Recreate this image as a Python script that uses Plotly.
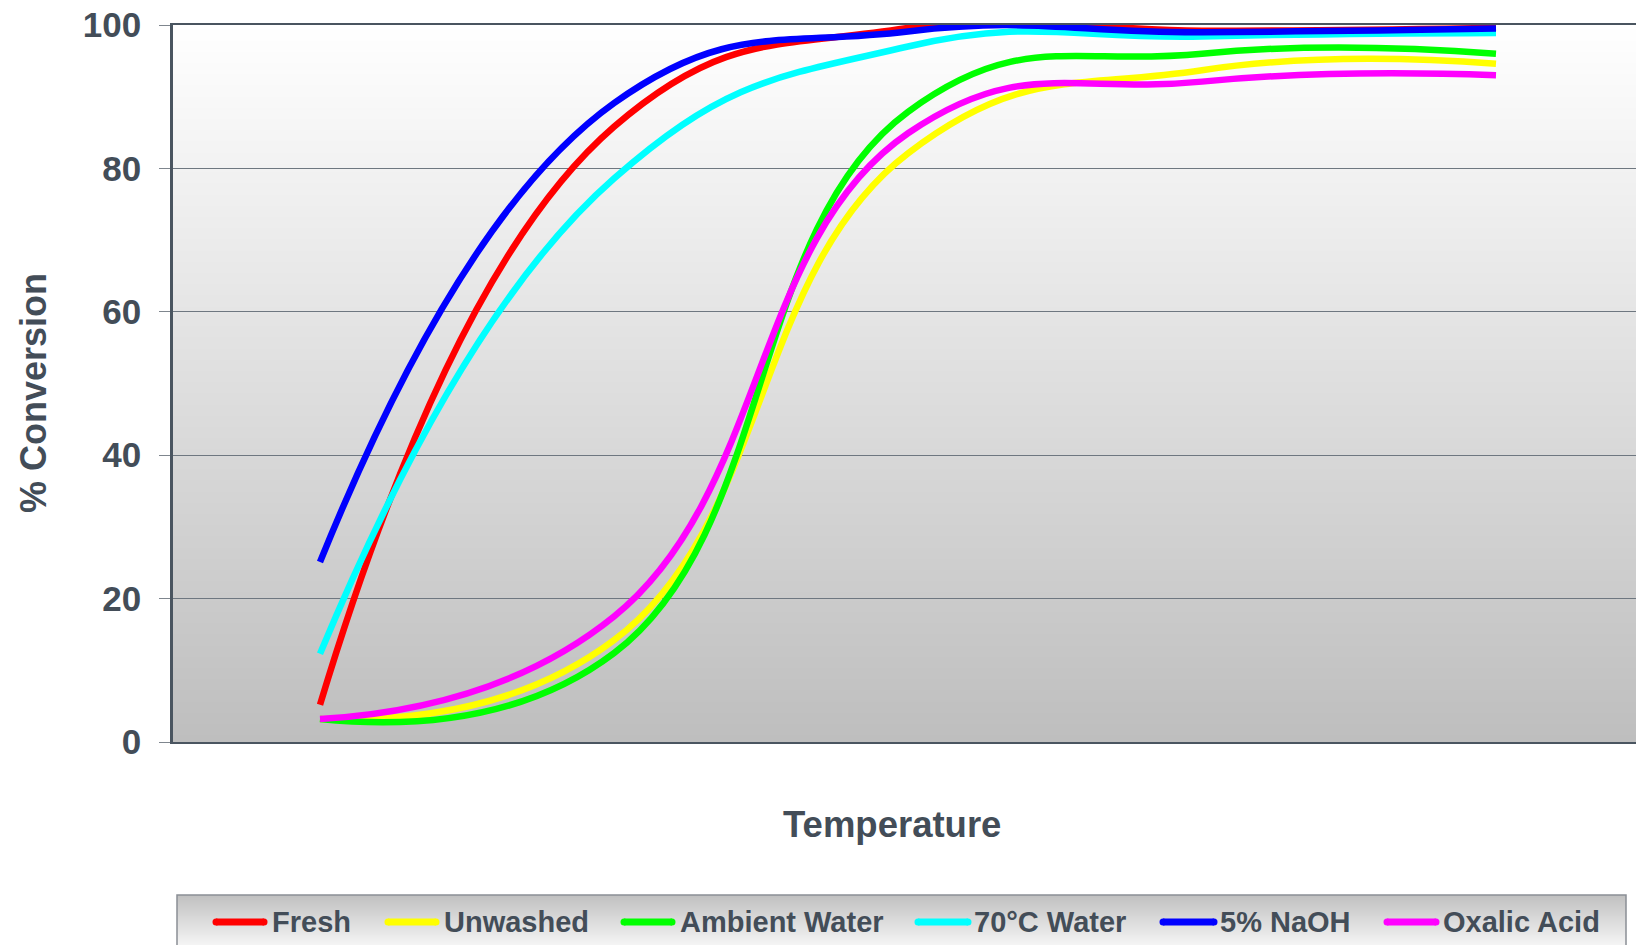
import base64
import struct
import zlib

import plotly.graph_objects as go

# ---------------- data ----------------
temperature_points = [0, 1, 2, 3, 4]          # category positions (axis carries no labels)
series_names = ["Fresh", "Unwashed", "Ambient Water", "70°C Water", "5% NaOH", "Oxalic Acid"]
fresh = [5.2, 85.8, 99.6, 99.2, 99.6]
unwashed = [3.2, 14.2, 82.1, 93.7, 94.6]
ambient_water = [3.2, 12.4, 87.9, 96.0, 96.0]
water_70c = [12.3, 78.6, 97.0, 98.4, 98.9]
naoh_5pct = [25.1, 89.1, 99.1, 99.0, 99.5]
oxalic_acid = [3.2, 17.5, 84.9, 92.1, 93.0]
y_ticks = [0, 20, 40, 60, 80, 100]

series_values = [fresh, unwashed, ambient_water, water_70c, naoh_5pct, oxalic_acid]
series_colors = ["#ff0000", "#ffff00", "#00ff00", "#00ffff", "#0000ff", "#ff00ff"]

# ---------------- geometry helpers (pixel -> paper) ----------------
W, H = 1636, 945
ML, MR, MT, MB = 173, 0, 25, 203
PW, PH = W - ML - MR, H - MT - MB


def px_x(px):
    return (px - ML) / PW


def px_y(py):
    return (H - MB - py) / PH


def grad_png(c_top, c_bot, h=256, w=4):
    rows = []
    for i in range(h):
        t = i / (h - 1)
        c = [int(round(a + (b - a) * t)) for a, b in zip(c_top, c_bot)]
        rows.append(b"\x00" + bytes(c) * w)
    raw = b"".join(rows)

    def chunk(tag, data):
        return (struct.pack(">I", len(data)) + tag + data
                + struct.pack(">I", zlib.crc32(tag + data) & 0xFFFFFFFF))

    png = (b"\x89PNG\r\n\x1a\n"
           + chunk(b"IHDR", struct.pack(">IIBBBBB", w, h, 8, 2, 0, 0, 0))
           + chunk(b"IDAT", zlib.compress(raw))
           + chunk(b"IEND", b""))
    return "data:image/png;base64," + base64.b64encode(png).decode()


TEXT = "#434d58"
FONT = "Liberation Sans, Arial, sans-serif"

fig = go.Figure()
for name, vals, col in zip(series_names, series_values, series_colors):
    fig.add_trace(go.Scatter(
        x=temperature_points, y=vals, name=name, mode="lines",
        line=dict(color=col, width=6.5, shape="spline", smoothing=1.3),
        showlegend=False,
    ))

x_max = PW / ((320 - ML) / 0.5) - 0.5

images = [
    dict(source=grad_png((255, 255, 255), (190, 190, 190)), xref="paper", yref="paper",
         x=0, y=1, sizex=1, sizey=1, sizing="stretch", xanchor="left", yanchor="top",
         layer="below"),
    dict(source=grad_png((192, 192, 192), (252, 252, 252)), xref="paper", yref="paper",
         x=px_x(177), y=px_y(895), sizex=px_x(1626) - px_x(177), sizey=px_y(895) - px_y(952),
         sizing="stretch", xanchor="left", yanchor="top", layer="below"),
]

shapes = [
    dict(type="rect", xref="paper", yref="paper", x0=px_x(177), x1=px_x(1626),
         y0=px_y(895), y1=px_y(960), line=dict(color="#8a8f95", width=1.5),
         fillcolor="rgba(0,0,0,0)"),
]
annotations = []

legend_lines = [(216, 264), (388, 436), (624, 672), (918, 968), (1163, 1214), (1387, 1436)]
legend_text_x = [270, 442, 678, 972, 1218, 1441]
legend_y = 922
for name, col, (a, b), tx in zip(series_names, series_colors, legend_lines, legend_text_x):
    shapes.append(dict(type="line", xref="paper", yref="paper", x0=px_x(a), x1=px_x(b),
                       y0=px_y(legend_y), y1=px_y(legend_y), line=dict(color=col, width=7)))
    for cx in (a, b):  # rounded caps
        shapes.append(dict(type="circle", xref="paper", yref="paper",
                           x0=px_x(cx - 3.5), x1=px_x(cx + 3.5),
                           y0=px_y(legend_y + 3.5), y1=px_y(legend_y - 3.5),
                           fillcolor=col, line=dict(width=0)))
    annotations.append(dict(text=name, xref="paper", yref="paper", x=px_x(tx), y=px_y(legend_y),
                            xanchor="left", yanchor="middle", showarrow=False,
                            font=dict(family=FONT, size=29, color=TEXT, weight="bold")))

annotations.append(dict(text="% Conversion", xref="paper", yref="paper", x=px_x(33), y=px_y(393),
                        xanchor="center", yanchor="middle", textangle=-90, showarrow=False,
                        font=dict(family=FONT, size=36, color=TEXT, weight="bold")))
annotations.append(dict(text="Temperature", xref="paper", yref="paper", x=px_x(892), y=px_y(824),
                        xanchor="center", yanchor="middle", showarrow=False,
                        font=dict(family=FONT, size=36.5, color=TEXT, weight="bold")))

fig.update_layout(
    width=W, height=H,
    margin=dict(l=ML, r=MR, t=MT, b=MB, pad=0),
    paper_bgcolor="white",
    plot_bgcolor="rgba(0,0,0,0)",
    images=images,
    shapes=shapes,
    annotations=annotations,
    showlegend=False,
    xaxis=dict(range=[-0.5, x_max], showline=True, mirror=True, linecolor="#4a5560",
               linewidth=2, showticklabels=False, ticks="", showgrid=False, zeroline=False),
    yaxis=dict(range=[0, 100], tickvals=y_ticks, showline=True, linecolor="#4a5560",
               linewidth=2.5, ticks="outside", ticklen=11, tickcolor="#7f868e", tickwidth=1,
               showgrid=True, gridcolor="#6e7780", gridwidth=1, zeroline=False,
               ticklabelstandoff=11,
               tickfont=dict(family=FONT, size=35, color=TEXT, weight="bold")),
)

fig.write_html("out.html")
